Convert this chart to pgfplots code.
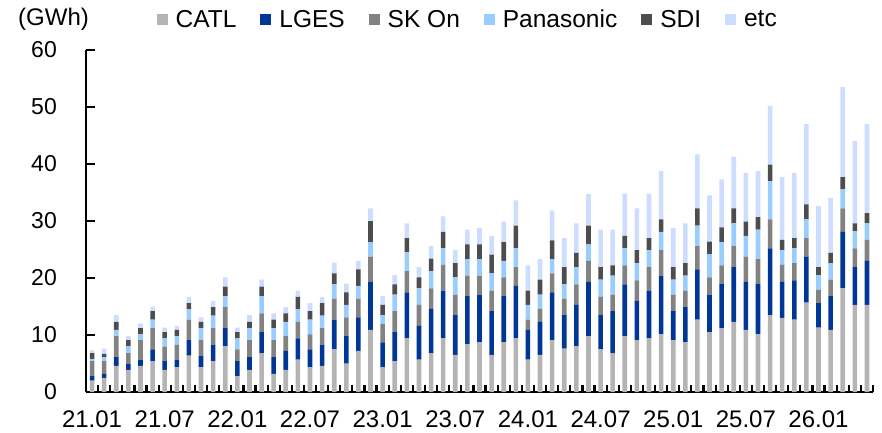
\documentclass[border=0pt]{standalone}
\usepackage{pgfplots}
\pgfplotsset{compat=1.18}
\usepackage{pgfplotstable}
\usepackage{fontspec}
\setmainfont{Liberation Sans}

\definecolor{catl}{RGB}{180,180,180}
\definecolor{lges}{RGB}{0,54,150}
\definecolor{skon}{RGB}{130,130,130}
\definecolor{pana}{RGB}{153,204,255}
\definecolor{sdi}{RGB}{77,77,77}
\definecolor{etcc}{RGB}{204,221,255}

% monthly values, 21.01 = 0 ... 26.05 = 64
\pgfplotstableread{
m catl lges skon pana sdi etc
0 2.0 0.8 2.6 0.4 1.0 0.5
1 2.5 0.7 2.2 0.7 0.6 0.9
2 4.6 1.5 3.7 1.1 1.4 1.2
3 3.9 1.1 1.8 1.2 1.1 0.7
4 4.6 1.1 3.4 1.0 1.1 0.8
5 5.4 2.1 3.7 1.5 1.5 0.8
6 3.9 1.5 2.5 1.5 1.1 0.8
7 4.3 1.4 2.6 1.5 1.1 0.7
8 6.4 2.7 3.6 1.8 1.1 1.1
9 4.3 2.1 2.7 2.1 1.1 0.8
10 5.4 2.9 2.9 2.2 1.5 1.1
11 8.0 3.2 3.7 1.9 1.7 1.6
12 2.8 2.6 2.1 1.9 1.1 0.8
13 3.9 2.2 3.0 2.1 1.1 1.2
14 6.8 3.7 3.3 3.0 1.7 1.2
15 3.2 2.9 3.0 2.1 1.5 1.1
16 3.9 3.3 2.6 2.5 1.5 1.1
17 5.7 3.7 2.9 2.2 2.2 1.1
18 4.3 3.2 2.6 2.6 1.5 1.4
19 4.6 3.7 2.9 2.2 2.2 1.1
20 7.5 5.2 3.7 2.5 1.9 1.9
21 5.0 4.8 3.3 2.2 2.2 1.5
22 7.2 5.9 3.3 2.2 2.9 1.5
23 10.9 8.4 4.4 2.6 3.7 2.2
24 4.3 4.4 3.2 1.6 1.8 1.5
25 5.4 5.1 3.7 2.9 1.8 1.6
26 9.4 8.1 3.7 3.3 2.5 2.6
27 5.7 5.9 3.7 2.9 1.9 1.8
28 6.8 7.8 3.6 3.0 2.2 2.2
29 9.4 8.4 4.5 2.9 2.9 2.7
30 6.5 7.0 3.6 3.0 2.5 2.3
31 8.4 8.4 3.6 2.9 2.6 2.6
32 8.7 8.4 3.3 2.9 2.6 2.9
33 6.5 7.7 3.6 3.0 3.3 3.3
34 8.7 8.1 3.3 2.9 3.3 3.6
35 9.4 9.2 3.3 3.3 4.0 4.4
36 5.7 5.2 1.8 2.6 2.5 4.4
37 6.5 5.8 2.3 2.5 2.6 3.6
38 9.1 8.4 3.3 2.5 3.3 5.2
39 7.6 5.9 2.9 2.5 3.0 5.1
40 8.0 7.3 3.6 3.0 2.5 5.2
41 9.8 9.5 3.7 2.9 3.3 5.5
42 7.5 6.0 3.2 3.0 2.2 6.6
43 6.8 7.4 2.9 3.3 1.8 6.3
44 9.8 9.1 3.3 3.0 2.2 7.4
45 9.1 6.9 3.6 3.0 2.3 7.3
46 9.4 8.4 4.1 3.0 2.1 7.8
47 10.1 10.3 4.5 3.2 2.2 8.5
48 9.1 5.1 2.9 2.6 2.2 6.9
49 8.7 6.2 2.9 2.6 2.2 7.0
50 12.7 8.8 4.1 3.6 3.0 9.5
51 10.5 6.6 3.0 4.1 2.2 8.1
52 11.2 7.8 3.2 4.1 2.6 8.4
53 12.3 9.6 3.7 4.0 2.6 9.1
54 10.9 8.4 4.4 3.7 2.5 8.5
55 10.1 8.9 4.3 5.2 2.2 8.1
56 13.5 11.7 5.1 6.7 2.9 10.3
57 13.0 6.3 3.0 2.6 1.8 11.0
58 12.7 6.9 3.0 2.6 1.8 11.4
59 15.7 8.0 3.3 3.3 2.6 14.1
60 11.3 4.3 2.3 2.6 1.4 10.7
61 10.9 5.9 2.9 2.9 1.8 9.6
62 18.2 9.9 4.1 3.4 2.1 15.8
63 15.3 6.6 3.3 3.0 1.4 14.4
64 15.3 7.7 3.7 2.9 1.8 15.6
}\evdata

\begin{document}
\begin{tikzpicture}
\begin{axis}[
  scale only axis, width=787bp, height=342bp,
  xmin=-0.5, xmax=64.5, ymin=0, ymax=60,
  axis lines=left, axis line style={-, line width=1.8bp, black},
  ybar stacked, bar width=4.6bp,
  clip=false,
  ytick={0,10,...,60},
  xtick={0,6,...,60},
  xticklabels={21.01,21.07,22.01,22.07,23.01,23.07,24.01,24.07,25.01,25.07,26.01},
  major tick length=0pt,
  xtick style={draw=none}, ytick style={draw=none},
  /pgf/number format/assume math mode=true,
  yticklabel style={font=\fontsize{23bp}{26bp}\selectfont, anchor=east, inner sep=0pt, xshift=-29bp},
  xticklabel style={font=\fontsize{24bp}{28bp}\selectfont, anchor=base, inner sep=0pt, yshift=-35bp},
  sq/.style={legend image code/.code={\fill[##1] (0bp,-5.5bp) rectangle (11bp,5.5bp);}},
  legend columns=6,
  legend style={draw=none, fill=none, at={(0.485,1.09)}, anchor=center,
    font=\fontsize{24.5bp}{28bp}\selectfont,
    /tikz/every even column/.append style={column sep=22bp},
    /tikz/every odd column/.append style={column sep=6bp}},
]
\addplot[fill=catl, draw=none, sq] table[x=m, y=catl] {\evdata};
\addplot[fill=lges, draw=none, sq] table[x=m, y=lges] {\evdata};
\addplot[fill=skon, draw=none, sq] table[x=m, y=skon] {\evdata};
\addplot[fill=pana, draw=none, sq] table[x=m, y=pana] {\evdata};
\addplot[fill=sdi, draw=none, sq] table[x=m, y=sdi] {\evdata};
\addplot[fill=etcc, draw=none, sq] table[x=m, y=etc] {\evdata};
\legend{CATL, LGES, SK On, Panasonic, SDI, etc}
\node[anchor=west, inner sep=0pt, xshift=-68bp, yshift=31bp, font=\fontsize{24bp}{28bp}\selectfont] at (rel axis cs:0,1) {(GWh)};
\end{axis}
% tick marks: between the monthly bars on x, every 10 on y (axis box is 787bp x 342bp)
\foreach \k in {1,...,65}
  \fill[black] ({\k*12.1077bp-1.1bp},0) rectangle ++(2.2bp,7bp);
\foreach \k in {1,...,6}
  \fill[black] (0,{\k*57bp-1.1bp}) rectangle ++(9bp,2.2bp);
\pgfresetboundingbox
\path (-86bp,-41bp) rectangle (796bp,392bp);
\end{tikzpicture}
\end{document}
